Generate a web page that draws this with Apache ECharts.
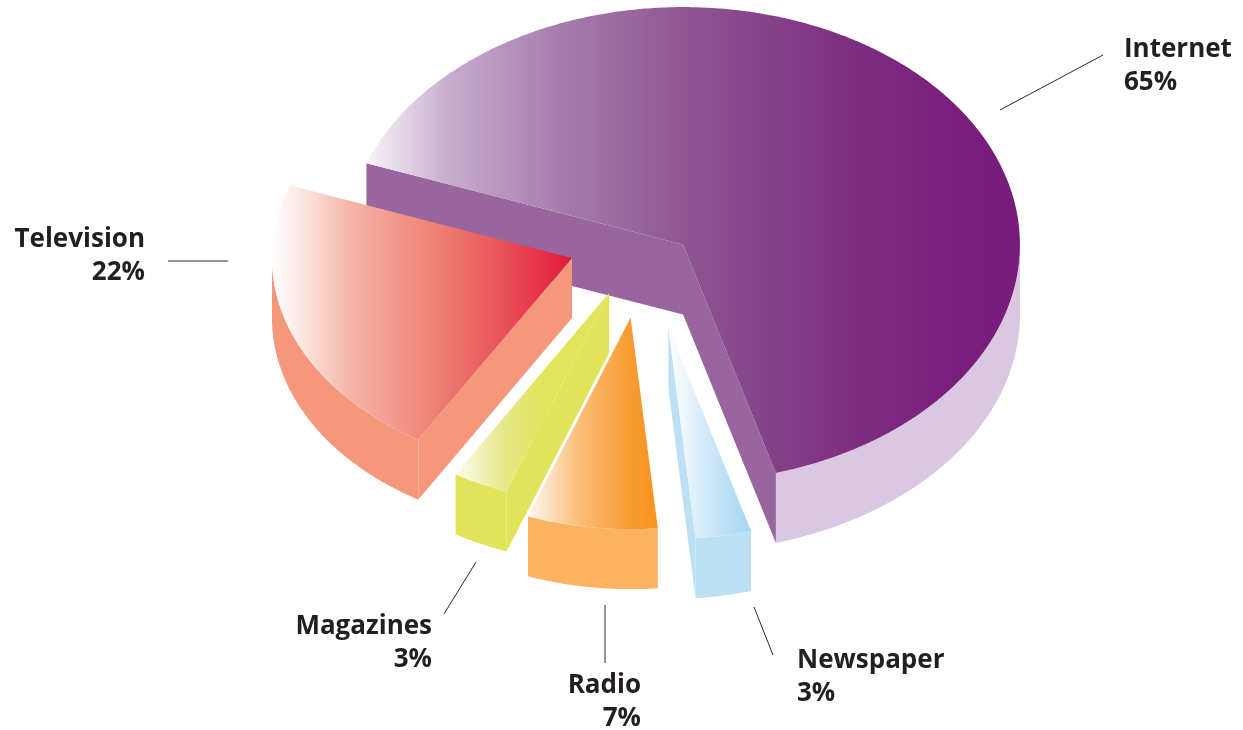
<!DOCTYPE html>
<html>
<head>
<meta charset="utf-8">
<script src="https://cdn.jsdelivr.net/npm/echarts@6/dist/echarts.min.js"></script>
<style>
  html, body { margin: 0; padding: 0; background: #ffffff; }
  #chart { width: 1243px; height: 730px; }
</style>
</head>
<body>
<div id="chart"></div>
<script>
// Media share, in percent
const categories = ['Internet', 'Newspaper', 'Radio', 'Magazines', 'Television'];
const shares = [65, 3, 7, 3, 22];

// Pie geometry: slices go clockwise from START_ANGLE (screen degrees, y down)
const START_ANGLE = 200;
const CENTER = [645, 239.6];
const BASE_RX = 300;
const TILT = 0.705;           // ry / rx of the tilted disc

// Look of each slice: top-face gradient, side colours, pull-out, thickness
const sliceStyle = {
  Internet: {
    top: [[0, '#f8f4f9'], [0.13, '#c6abcc'], [0.3, '#a67bac'], [0.51, '#8c5290'], [0.74, '#7d2e80'], [0.9, '#791e7c'], [1, '#781c7b']],
    wall: '#dac7e1', radial: '#98659f', scale: 1.123, explode: 52, drop: 30, depth: 70
  },
  Newspaper: {
    top: [[0, '#ffffff'], [0.5, '#cde8f7'], [1, '#a2d7f2']],
    wall: '#bde0f4', radial: '#bde0f4', scale: 1, explode: 127, drop: 0, depth: 60
  },
  Radio: {
    top: [[0, '#fff8f0'], [0.4, '#fbbd77'], [0.75, '#f89e36'], [1, '#f7931c']],
    wall: '#fbb362', radial: '#fbb362', scale: 1, explode: 111.6, drop: 0, depth: 60
  },
  Magazines: {
    top: [[0, '#fdfdf2'], [0.3, '#e6e98c'], [0.56, '#e2e55c'], [1, '#e2e55c']],
    wall: '#e1e45b', radial: '#e1e45b', scale: 1, explode: 83.5, drop: 0, depth: 60
  },
  Television: {
    top: [[0, '#ffffff'], [0.09, '#fde9e4'], [0.26, '#f5b5a8'], [0.53, '#ee8376'], [0.76, '#e9545a'], [1, '#e4183a']],
    wall: '#f5977a', radial: '#f5977a', scale: 1, explode: 77.5, drop: 0, depth: 60
  }
};

// Label placement: leader line and text anchor
const labelLayout = {
  Internet:   { line: [1000, 110, 1103, 55], text: [1124, 33], align: 'left' },
  Newspaper:  { line: [754, 607, 773, 655], text: [797, 644], align: 'left' },
  Radio:      { line: [605, 605, 605, 663], text: [641, 669], align: 'right' },
  Magazines:  { line: [444, 614, 476, 562], text: [432, 610], align: 'right' },
  Television: { line: [168, 261, 228, 261], text: [145, 223], align: 'right' }
};

const TEXT_COLOR = '#231f20';
const FONT_FAMILY = '"Open Sans", "Noto Sans", sans-serif';

const total = shares.reduce((a, b) => a + b, 0);
const rad = d => d * Math.PI / 180;

function renderItem(params, api) {
  const i = params.dataIndex;
  const name = categories[i];
  const st = sliceStyle[name];
  const lab = labelLayout[name];
  let before = 0;
  for (let j = 0; j < i; j++) before += shares[j];
  const value = api.value(0);
  const a0 = START_ANGLE + before / total * 360;
  const a1 = a0 + value / total * 360;
  const mid = rad((a0 + a1) / 2);

  const rx = BASE_RX * st.scale;
  const ry = rx * TILT;
  const cx = CENTER[0] + st.explode * Math.cos(mid);
  const cy = CENTER[1] + st.explode * TILT * Math.sin(mid) + st.drop;
  const h = st.depth;

  const rim = (deg, dy) => [cx + rx * Math.cos(rad(deg)), cy + ry * Math.sin(rad(deg)) + dy];
  const arc = (from, to, dy) => {
    const n = Math.max(2, Math.ceil(Math.abs(to - from) / 0.5));
    const pts = [];
    for (let k = 0; k <= n; k++) pts.push(rim(from + (to - from) * k / n, dy));
    return pts;
  };

  const children = [];

  // outer wall: only the part facing the viewer (screen angles 0..180)
  for (let base = Math.floor(a0 / 360) * 360 - 360; base < a1; base += 360) {
    const s = Math.max(a0, base), e = Math.min(a1, base + 180);
    if (e > s) {
      children.push({
        type: 'polygon',
        shape: { points: arc(s, e, 0).concat(arc(e, s, h)) },
        style: { fill: st.wall }
      });
    }
  }

  // radial faces that turn toward the viewer
  const radialFace = deg => ({
    type: 'polygon',
    shape: { points: [[cx, cy], rim(deg, 0), rim(deg, h), [cx, cy + h]] },
    style: { fill: st.radial }
  });
  if (Math.cos(rad(a0)) < 0) children.push(radialFace(a0));
  if (Math.cos(rad(a1)) > 0) children.push(radialFace(a1));

  // top face with a left-to-right gradient
  const topPts = [[cx, cy]].concat(arc(a0, a1, 0));
  let xmin = Infinity, xmax = -Infinity;
  topPts.forEach(p => { xmin = Math.min(xmin, p[0]); xmax = Math.max(xmax, p[0]); });
  children.push({
    type: 'polygon',
    shape: { points: topPts },
    style: {
      fill: new echarts.graphic.LinearGradient(xmin, 0, xmax, 0,
        st.top.map(s => ({ offset: s[0], color: s[1] })), true)
    }
  });

  // leader line and label
  children.push({
    type: 'line',
    shape: { x1: lab.line[0], y1: lab.line[1], x2: lab.line[2], y2: lab.line[3] },
    style: { stroke: '#2a2a2a', lineWidth: 1 }
  });
  children.push({
    type: 'text',
    style: {
      text: name + '\n' + Math.round(value / total * 100) + '%',
      x: lab.text[0], y: lab.text[1],
      fill: TEXT_COLOR,
      fontFamily: FONT_FAMILY,
      fontWeight: 'bold',
      fontSize: 26,
      lineHeight: 33,
      align: lab.align,
      verticalAlign: 'top'
    }
  });

  return { type: 'group', children: children };
}

const chart = echarts.init(document.getElementById('chart'), null, { renderer: 'canvas' });
chart.setOption({
  backgroundColor: '#ffffff',
  animation: false,
  series: [{
    type: 'custom',
    coordinateSystem: 'none',
    silent: true,
    renderItem: renderItem,
    data: categories.map((n, i) => ({ name: n, value: shares[i] }))
  }]
});
</script>
</body>
</html>
